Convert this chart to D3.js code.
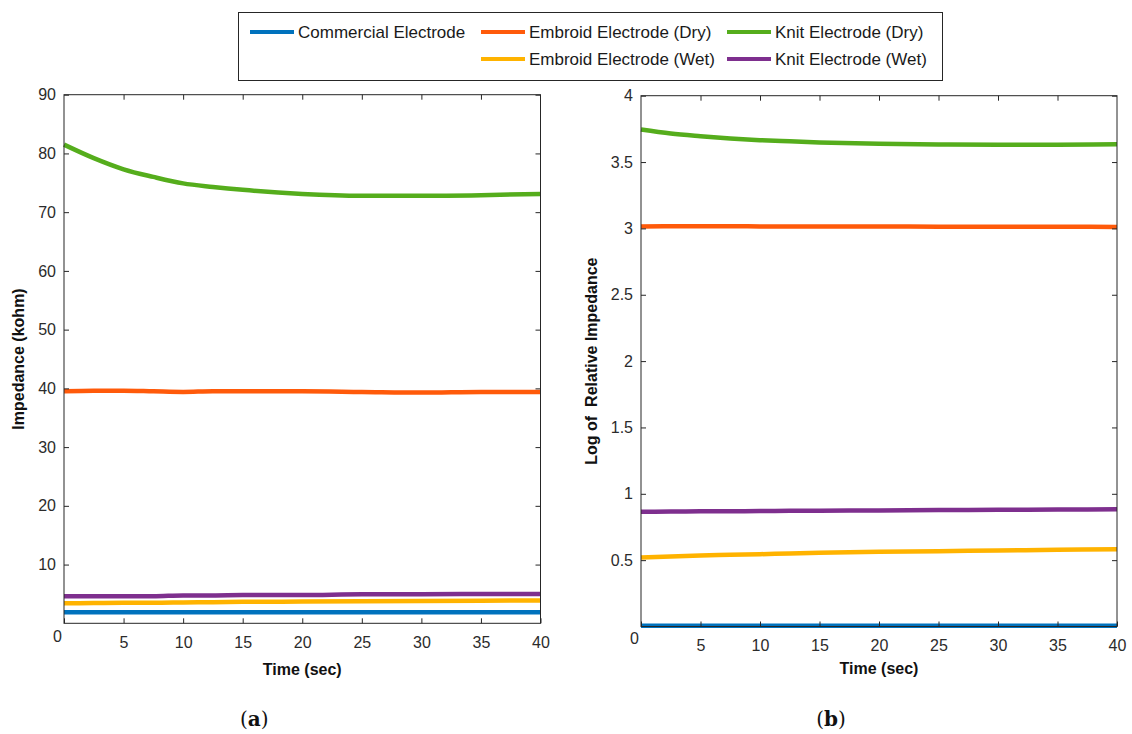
<!DOCTYPE html>
<html>
<head>
<meta charset="utf-8">
<script src="https://cdn.jsdelivr.net/npm/d3@7"></script>
<style>
  body { margin: 0; background: #fff; }
  svg { display: block; font-family: "Liberation Sans", Arial, sans-serif; }
  .tick text { fill: #2b2b2b; font-size: 16px; }
  .axis-title { font-weight: bold; font-size: 16px; fill: #111; white-space: pre; }
</style>
</head>
<body>
<div id="chart"></div>
<script>
// legend / series names and colours
var names = ["Commercial Electrode", "Embroid Electrode (Dry)", "Knit Electrode (Dry)",
             "Embroid Electrode (Wet)", "Knit Electrode (Wet)"];
var colors = ["#0072BD", "#FF5A0A", "#55AD1C", "#FFB300", "#7E2F8E"];

// sample times (sec)
var time = [0, 2.5, 5, 7.5, 10, 12.5, 15, 20, 25, 30, 35, 40];

// (a) impedance in kohm
var commercialA   = [1.9, 1.9, 1.9, 1.9, 1.9, 1.9, 1.9, 1.9, 1.9, 1.9, 1.9, 1.9];
var embroidDryA   = [39.5, 39.6, 39.6, 39.5, 39.4, 39.5, 39.5, 39.5, 39.4, 39.3, 39.4, 39.4];
var knitDryA      = [81.5, 79.2, 77.3, 76.0, 74.9, 74.3, 73.8, 73.1, 72.8, 72.8, 72.9, 73.1];
var embroidWetA   = [3.4, 3.45, 3.5, 3.5, 3.55, 3.6, 3.65, 3.7, 3.75, 3.8, 3.85, 3.9];
var knitWetA      = [4.6, 4.6, 4.6, 4.6, 4.75, 4.75, 4.8, 4.8, 4.95, 4.95, 5.0, 5.0];

// (b) log of relative impedance
var commercialB   = [0.005, 0.005, 0.005, 0.005, 0.005, 0.005, 0.005, 0.005, 0.005, 0.005, 0.005, 0.005];
var embroidDryB   = [3.015, 3.017, 3.017, 3.016, 3.015, 3.015, 3.015, 3.014, 3.013, 3.012, 3.012, 3.011];
var knitDryB      = [3.745, 3.715, 3.695, 3.678, 3.665, 3.656, 3.648, 3.638, 3.632, 3.63, 3.631, 3.634];
var embroidWetB   = [0.52, 0.528, 0.535, 0.54, 0.545, 0.55, 0.555, 0.563, 0.568, 0.573, 0.578, 0.582];
var knitWetB      = [0.865, 0.866, 0.868, 0.869, 0.87, 0.872, 0.873, 0.875, 0.877, 0.879, 0.881, 0.883];

var xTicks = [0, 5, 10, 15, 20, 25, 30, 35, 40];
var yTicksA = [10, 20, 30, 40, 50, 60, 70, 80, 90];
var yTicksB = [0.5, 1, 1.5, 2, 2.5, 3, 3.5, 4];

var W = 1132, H = 734;
var svg = d3.select("#chart").append("svg")
  .attr("width", W).attr("height", H);

function drawPanel(cfg) {
  var x = d3.scaleLinear().domain([0, 40]).range([cfg.left, cfg.right]);
  var y = d3.scaleLinear().domain(cfg.yDomain).range([cfg.bottom, cfg.top]);
  var g = svg.append("g");

  // data lines (drawn first, frame on top)
  var line = d3.line()
    .x(function(d) { return x(d[0]); })
    .y(function(d) { return y(d[1]); })
    .curve(d3.curveMonotoneX);
  // draw order: commercial, embroid wet, knit wet, embroid dry, knit dry
  [0, 3, 4, 1, 2].forEach(function(k) {
    var pts = time.map(function(t, i) { return [t, cfg.series[k][i]]; });
    g.append("path")
      .attr("d", line(pts))
      .attr("fill", "none")
      .attr("stroke", colors[k])
      .attr("stroke-width", 4.5);
  });

  // axes, ticks pointing inward
  var bottomAxis = g.append("g")
    .attr("transform", "translate(0," + cfg.bottom + ")")
    .call(d3.axisBottom(x).tickValues(xTicks).tickSizeInner(-5).tickSizeOuter(0).tickPadding(13));
  bottomAxis.selectAll(".tick text")
    .filter(function(d) { return d === 0; })
    .attr("transform", "translate(" + cfg.zeroDx + "," + cfg.zeroDy + ")");
  g.append("g")
    .attr("transform", "translate(0," + cfg.top + ")")
    .call(d3.axisTop(x).tickValues(xTicks.slice(1, -1)).tickSizeInner(-5).tickSizeOuter(0).tickFormat(""));
  g.append("g")
    .attr("transform", "translate(" + cfg.left + ",0)")
    .call(d3.axisLeft(y).tickValues(cfg.yTicks).tickSizeInner(-5).tickSizeOuter(0).tickPadding(8)
      .tickFormat(d3.format("~g")));
  g.append("g")
    .attr("transform", "translate(" + cfg.right + ",0)")
    .call(d3.axisRight(y).tickValues(cfg.yTicks).tickSizeInner(-5).tickSizeOuter(0).tickFormat(""));
  g.selectAll(".domain").attr("stroke", "none");
  g.selectAll(".tick line").attr("stroke", "#262626");

  // frame
  g.append("rect")
    .attr("x", cfg.left).attr("y", cfg.top)
    .attr("width", cfg.right - cfg.left).attr("height", cfg.bottom - cfg.top)
    .attr("fill", "none").attr("stroke", "#262626").attr("stroke-width", 1);

  g.append("text").attr("class", "axis-title")
    .attr("x", (cfg.left + cfg.right) / 2).attr("y", cfg.bottom + cfg.xTitleDy)
    .attr("text-anchor", "middle").text("Time (sec)");
  g.append("text").attr("class", "axis-title")
    .attr("transform", "translate(" + cfg.yTitleX + "," + ((cfg.top + cfg.bottom) / 2) + ") rotate(-90)")
    .attr("text-anchor", "middle").text(cfg.yTitle);

  var cap = g.append("text")
    .attr("x", (cfg.left + cfg.right) / 2 - 48).attr("y", 726)
    .attr("text-anchor", "middle")
    .style("font-family", "'DejaVu Serif', 'Liberation Serif', serif")
    .style("font-size", "20px").attr("fill", "#111");
  cap.append("tspan").text("(");
  cap.append("tspan").attr("font-weight", "bold").text(cfg.caption);
  cap.append("tspan").text(")");
}

drawPanel({
  left: 64, right: 540.5, top: 94.7, bottom: 623.3,
  yDomain: [0, 90], yTicks: yTicksA,
  series: [commercialA, embroidDryA, knitDryA, embroidWetA, knitWetA],
  yTitle: "Impedance (kohm)", yTitleX: 24, xTitleDy: 52,
  zeroDx: -7, zeroDy: -6, caption: "a"
});

drawPanel({
  left: 641, right: 1117, top: 95.7, bottom: 626.5,
  yDomain: [0, 4], yTicks: yTicksB,
  series: [commercialB, embroidDryB, knitDryB, embroidWetB, knitWetB],
  yTitle: "Log of  Relative Impedance", yTitleX: 597, xTitleDy: 47,
  zeroDx: -7, zeroDy: -7, caption: "b"
});

// legend
var legend = svg.append("g");
legend.append("rect")
  .attr("x", 238.5).attr("y", 12.5).attr("width", 704).attr("height", 68)
  .attr("fill", "#fff").attr("stroke", "#262626").attr("stroke-width", 1);
var legendPos = [[250, 32], [481, 32], [727, 32], [481, 59], [727, 59]];
names.forEach(function(n, k) {
  var p = legendPos[k];
  legend.append("line")
    .attr("x1", p[0]).attr("x2", p[0] + 44)
    .attr("y1", p[1]).attr("y2", p[1])
    .attr("stroke", colors[k]).attr("stroke-width", 4);
  legend.append("text")
    .attr("x", p[0] + 48).attr("y", p[1] + 6)
    .style("font-size", "17px").attr("fill", "#1a1a1a")
    .text(n);
});
</script>
</body>
</html>
